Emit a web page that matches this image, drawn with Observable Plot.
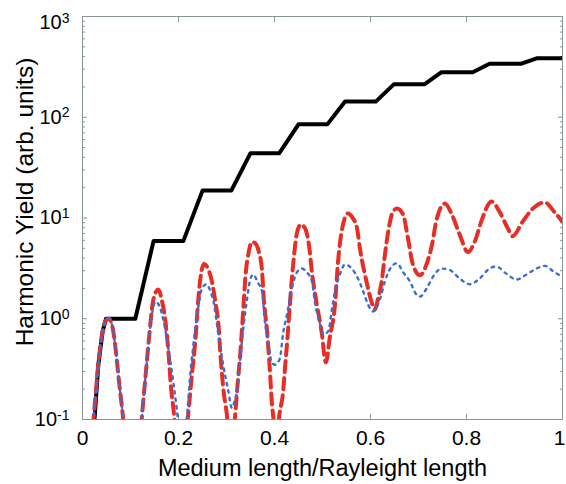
<!DOCTYPE html>
<html>
<head>
<meta charset="utf-8">
<script src="https://cdn.jsdelivr.net/npm/d3@7"></script>
<script src="https://cdn.jsdelivr.net/npm/@observablehq/plot@0.6"></script>
<style>
  html, body { margin: 0; padding: 0; background: #fff; }
  #chart { width: 566px; height: 484px; }
</style>
</head>
<body>
<div id="chart"></div>
<script>
// ---- Data ----
const blackSeries = [
  [0.018, 0.05], [0.025, 0.1], [0.033, 0.35], [0.042, 0.75], [0.049, 1.0],
  [0.11, 1.0], [0.148, 5.9], [0.21, 5.9], [0.25, 18.7], [0.31, 18.7],
  [0.35, 44], [0.41, 44], [0.45, 85], [0.51, 85], [0.547, 143], [0.611, 143],
  [0.649, 213], [0.713, 213], [0.748, 280], [0.813, 280], [0.848, 339],
  [0.913, 339], [0.946, 385], [1.0, 385]
];

const redSeries = [
  [0.015, 0.04], [0.025, 0.13], [0.034, 0.4], [0.042, 0.75], [0.05, 0.98], [0.055, 1.0],
  [0.062, 0.85], [0.069, 0.5], [0.076, 0.24], [0.084, 0.11], [0.094, 0.035], [0.105, 0.012],
  [0.115, 0.035], [0.124, 0.11], [0.131, 0.26], [0.138, 0.6], [0.146, 1.4], [0.153, 1.85],
  [0.158, 1.95], [0.165, 1.55], [0.172, 1.0], [0.179, 0.47], [0.184, 0.22], [0.19, 0.12],
  [0.198, 0.045], [0.205, 0.025], [0.212, 0.045], [0.22, 0.11], [0.228, 0.28], [0.235, 0.6],
  [0.241, 1.5], [0.247, 2.8], [0.253, 3.5], [0.262, 3.1], [0.27, 2.3], [0.277, 1.45],
  [0.283, 0.9], [0.288, 0.4], [0.294, 0.19], [0.3, 0.12], [0.309, 0.05], [0.318, 0.11],
  [0.323, 0.22], [0.329, 0.47], [0.335, 1.25], [0.34, 2.8], [0.346, 4.5], [0.353, 5.8],
  [0.36, 5.6], [0.367, 4.7], [0.374, 3.0], [0.378, 1.5], [0.384, 0.8], [0.39, 0.33],
  [0.394, 0.16], [0.398, 0.1], [0.404, 0.06], [0.41, 0.11], [0.418, 0.19], [0.422, 0.33],
  [0.427, 0.64], [0.432, 1.4], [0.439, 3.5], [0.447, 7.2], [0.455, 8.6], [0.463, 8.0],
  [0.472, 5.3], [0.478, 2.9], [0.488, 1.4], [0.498, 0.75], [0.507, 0.37], [0.515, 0.64],
  [0.526, 1.38], [0.532, 3.5], [0.54, 7.4], [0.553, 11.1], [0.563, 10], [0.572, 7.9],
  [0.578, 5.0], [0.592, 2.3], [0.602, 1.48], [0.609, 1.24], [0.616, 1.6], [0.623, 2.3],
  [0.63, 4.3], [0.637, 7.4], [0.647, 11.6], [0.655, 12.4], [0.668, 10.8], [0.678, 6.3],
  [0.688, 3.5], [0.703, 2.7], [0.717, 3.5], [0.728, 5.4], [0.738, 9.8], [0.755, 13.9],
  [0.769, 11], [0.786, 6.8], [0.803, 4.6], [0.817, 5.8], [0.832, 9.6], [0.852, 14.6],
  [0.869, 11.5], [0.886, 7.9], [0.896, 6.6], [0.917, 9.2], [0.938, 12.4], [0.963, 14.3],
  [0.983, 11.5], [1.0, 9.2]
];

const blueSeries = [
  [0.015, 0.04], [0.025, 0.13], [0.034, 0.4], [0.042, 0.75], [0.05, 0.98], [0.055, 1.0],
  [0.062, 0.85], [0.069, 0.5], [0.076, 0.24], [0.084, 0.11], [0.094, 0.035], [0.105, 0.012],
  [0.115, 0.035], [0.124, 0.11], [0.131, 0.26], [0.138, 0.6], [0.146, 1.2], [0.152, 1.48],
  [0.162, 1.27], [0.172, 0.8], [0.179, 0.5], [0.19, 0.22], [0.197, 0.12], [0.206, 0.05],
  [0.214, 0.07], [0.218, 0.11], [0.224, 0.26], [0.231, 0.55], [0.239, 1.1], [0.249, 2.0],
  [0.258, 2.2], [0.266, 1.9], [0.273, 1.48], [0.283, 0.7], [0.293, 0.35], [0.304, 0.19],
  [0.311, 0.13], [0.318, 0.16], [0.322, 0.19], [0.328, 0.37], [0.335, 0.8], [0.343, 1.6],
  [0.349, 2.4], [0.356, 2.75], [0.365, 2.3], [0.374, 1.86], [0.38, 0.94], [0.387, 0.6],
  [0.394, 0.37], [0.401, 0.35], [0.411, 0.4], [0.418, 0.72], [0.426, 1.1], [0.437, 2.1],
  [0.447, 2.9], [0.457, 3.15], [0.467, 2.9], [0.478, 2.35], [0.484, 1.48], [0.495, 0.88],
  [0.502, 0.7], [0.512, 0.75], [0.52, 1.27], [0.526, 1.86], [0.536, 2.75], [0.547, 3.45],
  [0.561, 3.15], [0.574, 2.5], [0.585, 1.86], [0.595, 1.38], [0.605, 1.18], [0.62, 1.58],
  [0.63, 2.35], [0.644, 3.3], [0.655, 3.55], [0.668, 2.9], [0.682, 2.35], [0.696, 1.73],
  [0.703, 1.66], [0.717, 2.0], [0.73, 2.6], [0.748, 3.15], [0.765, 3.05], [0.786, 2.5],
  [0.807, 2.2], [0.827, 2.5], [0.848, 3.15], [0.862, 3.3], [0.883, 2.8], [0.904, 2.45],
  [0.925, 2.75], [0.946, 3.15], [0.963, 3.35], [0.983, 2.9], [1.0, 2.6]
];

const xTicks = [0, 0.2, 0.4, 0.6, 0.8, 1];
const xTickLabels = ["0", "0.2", "0.4", "0.6", "0.8", "1"];
const yMajorTicks = [0.1, 1, 10, 100, 1000];
const yExponents = ["-1", "0", "1", "2", "3"];
const yMinorTicks = [
  0.2, 0.3, 0.4, 0.5, 0.6, 0.7, 0.8, 0.9,
  2, 3, 4, 5, 6, 7, 8, 9,
  20, 30, 40, 50, 60, 70, 80, 90,
  200, 300, 400, 500, 600, 700, 800, 900
];
const xLabel = "Medium length/Rayleight length";
const yLabel = "Harmonic Yield (arb. units)";

// ---- Style ----
const frameColor = "#8a9696";
const font = "'Liberation Sans', Arial, Helvetica, sans-serif";

const chart = Plot.plot({
  width: 566,
  height: 484,
  marginLeft: 82,
  marginRight: 4,
  marginTop: 16,
  marginBottom: 65,
  style: { fontFamily: font, background: "#fff", color: "#000" },
  x: { domain: [0, 1] },
  y: { type: "log", domain: [0.1, 1000] },
  marks: [
    // inward tick marks (MATLAB style) on all four sides
    Plot.axisX({ ticks: xTicks, anchor: "bottom", tickSize: 5, dy: -5, fill: "none", stroke: frameColor, label: null }),
    Plot.axisX({ ticks: xTicks, anchor: "top", tickSize: 5, dy: 5, fill: "none", stroke: frameColor, label: null }),
    Plot.axisY({ ticks: yMajorTicks, anchor: "left", tickSize: 5, dx: 5, fill: "none", stroke: frameColor, label: null }),
    Plot.axisY({ ticks: yMajorTicks, anchor: "right", tickSize: 5, dx: -5, fill: "none", stroke: frameColor, label: null }),
    Plot.axisY({ ticks: yMinorTicks, anchor: "left", tickSize: 3, dx: 3, fill: "none", stroke: frameColor, label: null }),
    Plot.axisY({ ticks: yMinorTicks, anchor: "right", tickSize: 3, dx: -3, fill: "none", stroke: frameColor, label: null }),
    // x tick labels
    Plot.text(xTicks, { x: d => d, text: (d, i) => xTickLabels[i], frameAnchor: "bottom", lineAnchor: "top", textAnchor: "middle", dy: 11, fontSize: 21, className: "xlab" }),
    // y tick labels (10 with exponent added below)
    Plot.text(yMajorTicks, { y: d => d, text: () => "10", frameAnchor: "left", textAnchor: "end", dx: -13, fontSize: 20, className: "ylab" }),
    // axis titles
    Plot.text([xLabel], { frameAnchor: "bottom", dy: 56, lineAnchor: "bottom", textAnchor: "middle", fontSize: 23.5 }),
    Plot.text([yLabel], { frameAnchor: "left", dx: -50, dy: -16, rotate: -90, lineAnchor: "bottom", textAnchor: "middle", fontSize: 24.5 }),
    // data
    Plot.line(blackSeries, { x: d => d[0], y: d => d[1], stroke: "#000", strokeWidth: 4, strokeLinejoin: "round", curve: "linear", clip: true }),
    Plot.line(redSeries, { x: d => d[0], y: d => d[1], stroke: "#e62e26", strokeWidth: 4, strokeDasharray: "11,6", curve: "monotone-x", clip: true }),
    Plot.line(blueSeries, { x: d => d[0], y: d => d[1], stroke: "#3c6ed2", strokeWidth: 2.4, strokeDasharray: "2.5,5", curve: "monotone-x", clip: true }),
    Plot.frame({ stroke: frameColor, strokeWidth: 1 })
  ]
});

// add superscript exponents to the y tick labels
d3.select(chart).selectAll("g.ylab text").each(function (_, i) {
  const t = d3.select(this);
  t.text("10");
  t.append("tspan").attr("dy", "-0.45em").attr("font-size", 14).text(yExponents[i]);
  if (yMajorTicks[i] === 1000) t.attr("dy", 6);
});
// keep the last x tick label inside the picture
d3.select(chart).selectAll("g.xlab text").each(function (_, i) {
  if (i === xTicks.length - 1) d3.select(this).attr("dx", -3);
});

document.getElementById("chart").appendChild(chart);
</script>
</body>
</html>
